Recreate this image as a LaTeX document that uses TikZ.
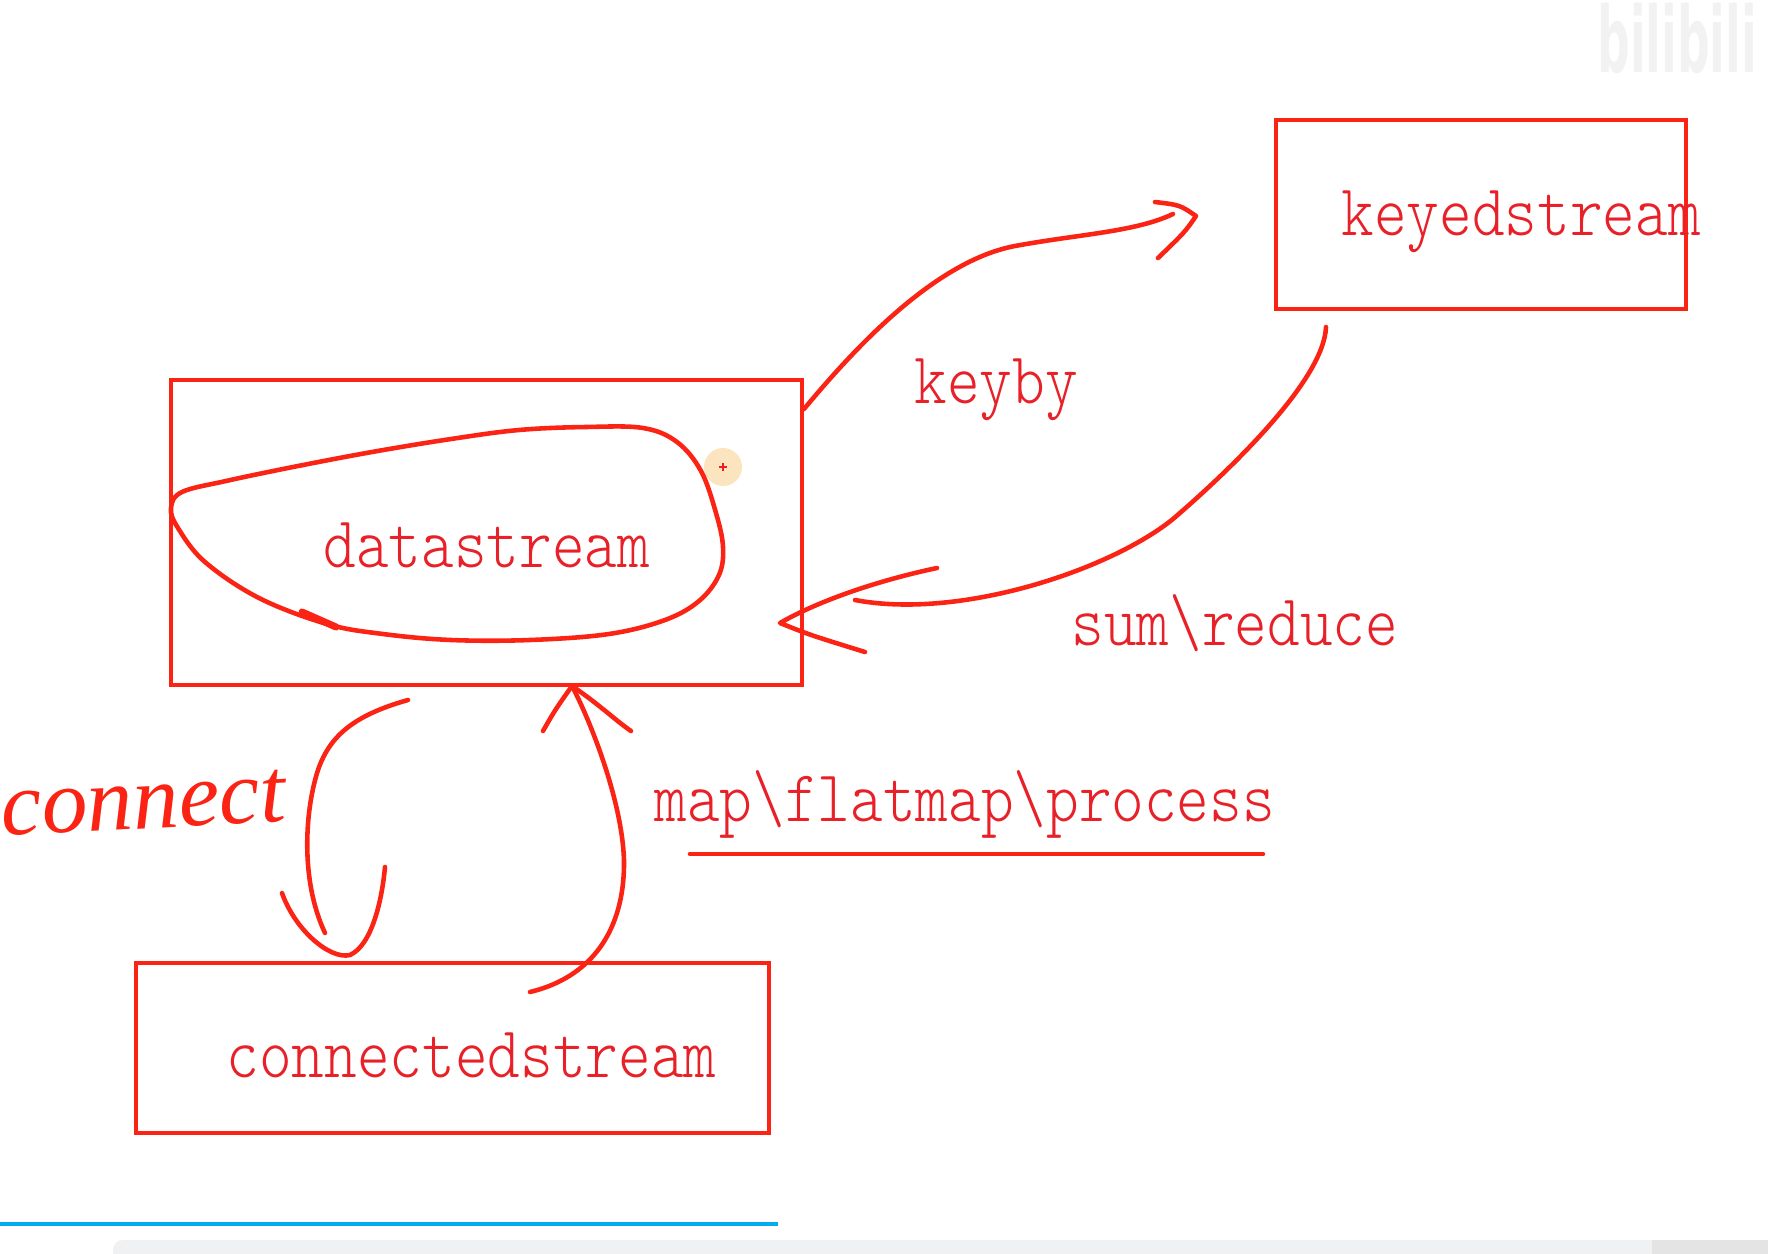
\documentclass[tikz,border=0pt]{standalone}
\usepackage{fontspec}
\setmonofont{lmmonolt10-regular.otf}[FakeStretch=0.85]
\newfontfamily\handfont{Liberation Serif}
\newfontfamily\logofont{DejaVu Sans}
\definecolor{penred}{RGB}{250,35,20}
\definecolor{inkred}{RGB}{232,32,40}
\definecolor{barblue}{RGB}{0,174,239}
\definecolor{bargray}{RGB}{240,241,243}
\definecolor{bargrayb}{RGB}{228,228,228}
\definecolor{cursorbg}{RGB}{251,228,190}

\begin{document}
\begin{tikzpicture}[x=0.01cm, y=-0.01cm,
	pen/.style = {draw=penred, line width=1.3pt, line cap=round, line join=round},
	box/.style = {draw=penred, line width=1.3pt, rectangle, inner sep=0pt},
	lbl/.style = {text=inkred, font=\ttfamily\fontsize{20.8}{24}\selectfont, inner sep=0pt, anchor=base west}]
				\useasboundingbox (0,0) rectangle (1768,1254);
				\node[text=black!5, font=\logofont\bfseries\fontsize{13}{14}\selectfont] (logo) at (1677,38) {\scalebox{1}[2]{bilibili}};
				\node[box, minimum width=4.10cm, minimum height=1.89cm] (keyed) at (1481,214.5) {};
				\node[box, minimum width=6.31cm, minimum height=3.05cm] (data) at (486.5,532.5) {};
				\node[box, minimum width=6.33cm, minimum height=1.70cm] (conn) at (452.5,1048) {};
				\node[lbl] (keyed-txt) at (1341,235) {keyedstream};
				\node[lbl] (data-txt) at (323,567) {datastream};
				\node[lbl] (conn-txt) at (226,1077) {connectedstream};
				\node[lbl] (keyby-txt) at (914,403) {keyby};
				\node[lbl] (sum-txt) at (1071,645) {sum\textbackslash reduce};
				\node[lbl] (map-txt) at (654,821) {map\textbackslash flatmap\textbackslash process};
				\node[text=penred, font=\handfont\itshape\fontsize{26}{28}\selectfont, inner sep=0pt, anchor=base west, rotate=3] (connect-txt) at (2,836) {connect};
				\fill[cursorbg] (723,467) circle (0.19cm);
				\draw[inkred, line width=0.4pt] (719,467) -- (727,467) (723,463) -- (723,471);
				\draw[pen] plot[smooth cycle, tension=0.6] coordinates {(182,492) (226,481) (293,467) (372,452) (451,439) (519,430) (586,427) (643,428) (677,442) (701,471) (716,513) (723,547) (719,575) (699,601) (665,620) (609,634) (530,640) (451,640) (383,634) (327,624) (259,598) (205,562) (178,528) (171,508)};
				\draw[pen, line width=2pt] (302,612) -- (336,627);
				\coordinate (kb-a) at (804,409);
				\coordinate (kb-b) at (1173,214);
				\coordinate (kb-tip) at (1196,216);
				\coordinate (kb-h1) at (1155,202);
				\coordinate (kb-h2) at (1158,258);
				\draw[pen] (kb-a) .. controls (845,360) and (930,262) .. (1015,246) .. controls (1080,234) and (1135,232) .. (kb-b);
				\draw[pen] (kb-h1) .. controls (1180,205) .. (kb-tip) .. controls (1185,232) .. (kb-h2);
				\coordinate (sr-a) at (1326,327);
				\coordinate (sr-b) at (855,600);
				\coordinate (sr-tip) at (780,623);
				\coordinate (sr-h1) at (937,568);
				\coordinate (sr-h2) at (865,652);
				\draw[pen] (sr-a) .. controls (1324,380) and (1230,470) .. (1173,519) .. controls (1110,570) and (960,620) .. (sr-b);
				\draw[pen] (sr-h1) .. controls (880,580) and (820,600) .. (sr-tip) .. controls (810,635) .. (sr-h2);
				\coordinate (mp-a) at (530,992);
				\coordinate (mp-tip) at (572,686);
				\coordinate (mp-h1) at (543,731);
				\coordinate (mp-h2) at (631,731);
				\draw[pen] (mp-a) .. controls (600,975) and (625,920) .. (624,860) .. controls (622,800) and (590,720) .. (mp-tip);
				\draw[pen] (mp-h1) .. controls (555,710) .. (mp-tip) .. controls (600,705) and (615,720) .. (mp-h2);
				\coordinate (cn-a) at (408,700);
				\coordinate (cn-b) at (325,933);
				\coordinate (cn-h1) at (282,893);
				\coordinate (cn-tip) at (350,955);
				\coordinate (cn-h2) at (385,867);
				\draw[pen] (cn-a) .. controls (355,715) and (330,735) .. (318,770) .. controls (305,810) and (300,880) .. (cn-b);
				\draw[pen] (cn-h1) .. controls (295,930) and (330,960) .. (cn-tip) .. controls (372,945) and (382,900) .. (cn-h2);
				\draw[pen] (690,854) -- (1263,854);
				\fill[barblue] (0,1222) rectangle (778,1226);
				\fill[bargray, rounded corners=0.1cm] (113,1240) rectangle (1800,1290);
				\fill[bargrayb] (1652,1240) rectangle (1768,1254);
			\end{tikzpicture}
\end{document}
